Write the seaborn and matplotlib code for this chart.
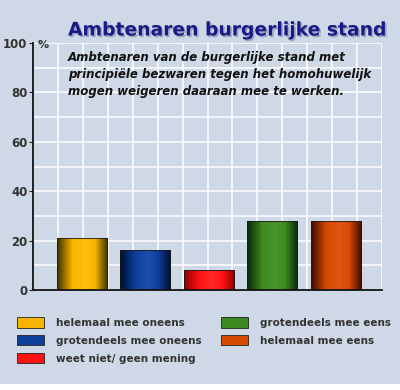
import numpy as np
import pandas as pd
import matplotlib
matplotlib.use("Agg")
import matplotlib.pyplot as plt
import seaborn as sns
from matplotlib.colors import LinearSegmentedColormap
from matplotlib.patches import Patch, Rectangle
import matplotlib.patheffects as pe

categories = ["helemaal mee oneens", "grotendeels mee oneens", "weet niet/ geen mening",
              "grotendeels mee eens", "helemaal mee eens"]
values = [21, 16, 8, 28, 28]
yticks = [0, 20, 40, 60, 80, 100]
title = "Ambtenaren burgerlijke stand"
subtitle = ("Ambtenaren van de burgerlijke stand met\n"
            "principiële bezwaren tegen het homohuwelijk\n"
            "mogen weigeren daaraan mee te werken.")

mid_colors = ["#f7b400", "#0e3f9a", "#ff1212", "#3c8a22", "#d64a00"]
dark_colors = ["#3a3000", "#000c30", "#900000", "#082608", "#3a0c00"]
light_colors = ["#ffc010", "#1a50b0", "#ff2a2a", "#48962a", "#e05410"]

BG = "#cfd8e6"
sns.set_theme(style="white")
plt.rcParams['font.family'] = ['DejaVu Sans']

fig = plt.figure(figsize=(4.0, 3.9), dpi=100, facecolor=BG)
ax = fig.add_axes([33/400, 1-290/390, (382-33)/400, (290-43)/390])
ax.set_facecolor(BG)

df = pd.DataFrame({"cat": categories, "val": values})
sns.barplot(data=df, x="cat", y="val", hue="cat", palette=mid_colors, legend=False,
            width=0.79, ax=ax, saturation=1)

xlim = (-0.77, 4.73)
ax.set_xlim(*xlim)
ax.set_ylim(0, 100)

# gradient shading of the bars
grad = np.linspace(0, 1, 256).reshape(1, -1)
for patch, d, m, l in zip(ax.patches, dark_colors, mid_colors, light_colors):
    x0, y0 = patch.get_x(), patch.get_y()
    w, h = patch.get_width(), patch.get_height()
    cmap = LinearSegmentedColormap.from_list("g", [(0, d), (0.3, m), (0.55, l), (0.75, m), (1, d)])
    patch.set_facecolor("none")
    patch.set_edgecolor("#1a1a1a")
    patch.set_linewidth(0.6)
    patch.set_zorder(3)
    im = ax.imshow(grad, extent=[x0, x0 + w, y0, y0 + h], aspect="auto", cmap=cmap,
                   zorder=2.5, interpolation="bilinear")
    im.set_clip_path(patch)
ax.set_aspect("auto")
ax.set_xlim(*xlim)
ax.set_ylim(0, 100)

# grid
ax.set_xticks(np.linspace(xlim[0], xlim[1], 15))
ax.set_xticklabels([])
ax.set_yticks(yticks)
ax.set_yticks(np.arange(10, 100, 20), minor=True)
ax.set_yticklabels([str(t) for t in yticks], fontsize=8.5, color="#333333", fontweight="bold")
ax.grid(True, which="both", color="white", linewidth=1.1)
ax.set_axisbelow(True)
ax.tick_params(axis="x", length=0)
ax.tick_params(axis="y", which="major", length=3, width=0.8, color="#222222", pad=1, left=True)
ax.tick_params(axis="y", which="minor", length=0)
ax.set_xlabel("")
ax.set_ylabel("")
for s in ["top", "right"]:
    ax.spines[s].set_visible(False)
ax.spines["left"].set_color("#111111")
ax.spines["left"].set_linewidth(1.3)
ax.spines["bottom"].set_color("#111111")
ax.spines["bottom"].set_linewidth(1.3)

fig.text(38/400, 1-45/390, "%", fontsize=8, color="#333333", fontweight="bold", va="center")

fig.text(68/400, 1-30/390, title, fontsize=13.5, fontweight="bold", color="#1a1a86",
         va="center", ha="left",
         path_effects=[pe.withSimplePatchShadow(offset=(1.2, -1.2), shadow_rgbFace="#8d9ab8", alpha=0.8)])
fig.text(68/400, 1-51/390, subtitle, fontsize=8.5, fontweight="bold", fontstyle="italic",
         color="#111111", va="top", ha="left", linespacing=1.42)

handles = [Patch(facecolor=c, edgecolor="#222222", linewidth=0.6) for c in mid_colors]
leg = fig.legend(handles, categories, loc="upper left", bbox_to_anchor=(10/400, 1-310/390),
                 ncol=2, frameon=False, fontsize=7.5, handlelength=2.6, handleheight=1.15,
                 handletextpad=1.15, columnspacing=1.8, labelspacing=0.68, borderpad=0.2)
for t in leg.get_texts():
    t.set_color("#333333")
    t.set_fontweight("bold")

fig.patches.append(Rectangle((0, 0), 1, 6/390, transform=fig.transFigure,
                             facecolor="white", edgecolor="none"))

fig.savefig("out.png", dpi=100, facecolor=BG)
